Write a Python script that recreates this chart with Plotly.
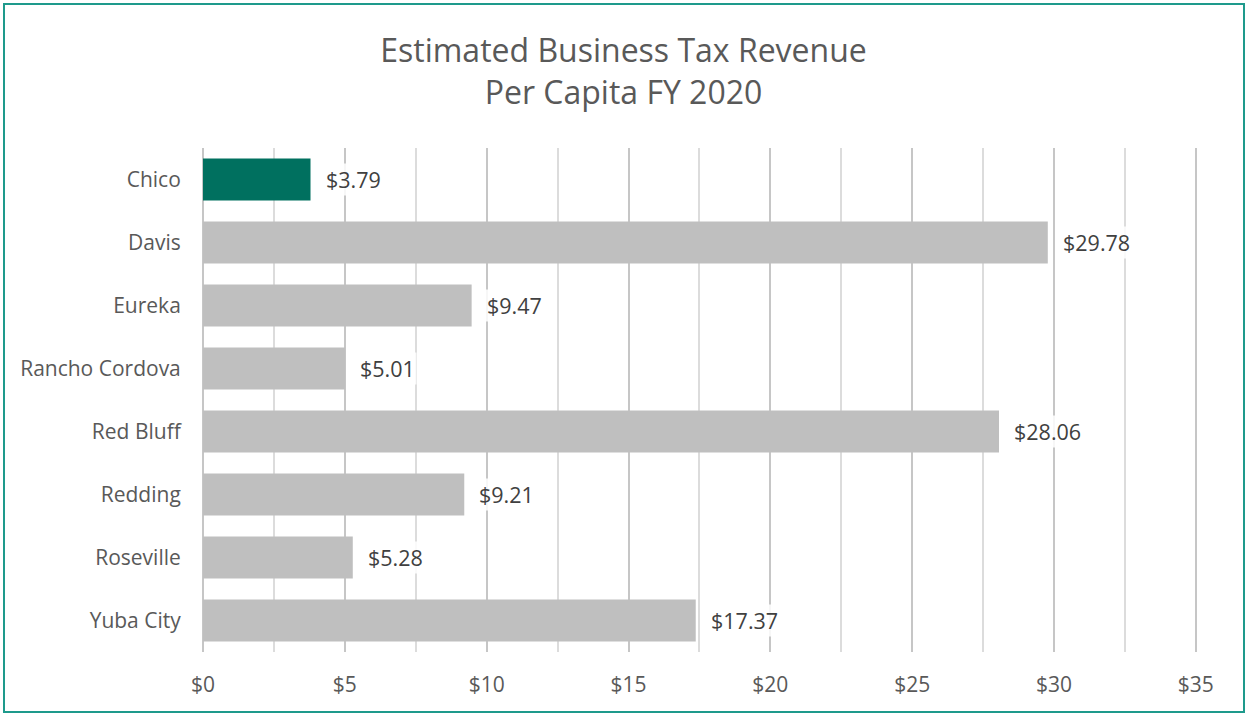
import plotly.graph_objects as go

# Per-capita business tax revenue, FY 2020
cities = ["Chico", "Davis", "Eureka", "Rancho Cordova", "Red Bluff", "Redding", "Roseville", "Yuba City"]
revenue = [3.79, 29.78, 9.47, 5.01, 28.06, 9.21, 5.28, 17.37]
highlight_city = "Chico"
x_ticks = [0, 5, 10, 15, 20, 25, 30, 35]

TEAL = "#00705f"
GRAY = "#bfbfbf"
TEXT = "#595959"
FONT = "Open Sans, sans-serif"

W, H = 1247, 714
L, R, T, B = 203, 50, 148, 62

bar_colors = [TEAL if c == highlight_city else GRAY for c in cities]

fig = go.Figure(
    go.Bar(
        x=revenue,
        y=cities,
        orientation="h",
        marker=dict(color=bar_colors, line=dict(width=0)),
        hoverinfo="x+y",
    )
)

# value labels to the right of each bar
for c, v in zip(cities, revenue):
    fig.add_annotation(
        x=v, y=c, xref="x", yref="y",
        text=f"${v:.2f}",
        showarrow=False,
        xanchor="left", yanchor="middle",
        xshift=13,
        font=dict(family=FONT, size=21.5, color="#404040"),
        bgcolor="rgba(255,255,255,0.85)",
    )

# outer frame around the whole chart
pw = W - L - R
ph = H - T - B
def px_to_paper_x(px):
    return (px - L) / pw
def px_to_paper_y(py):
    return (H - B - py) / ph

fig.add_shape(
    type="rect", xref="paper", yref="paper",
    x0=px_to_paper_x(4), x1=px_to_paper_x(1244),
    y0=px_to_paper_y(712), y1=px_to_paper_y(4),
    line=dict(color="#1e9a8c", width=2),
    fillcolor="rgba(0,0,0,0)",
    layer="above",
)

fig.update_layout(
    width=W, height=H,
    margin=dict(l=L, r=R, t=T, b=B),
    paper_bgcolor="white",
    plot_bgcolor="white",
    bargap=0.33,
    showlegend=False,
    font=dict(family=FONT, color=TEXT, size=21),
    title=dict(
        text="Estimated Business Tax Revenue<br>Per Capita FY 2020",
        x=0.5, xanchor="center",
        y=1 - 62 / H, yanchor="middle", yref="container",
        font=dict(family=FONT, size=32, color=TEXT),
    ),
    xaxis=dict(
        range=[0, 35.04],
        tickvals=x_ticks,
        ticktext=[f"${t}" for t in x_ticks],
        showgrid=True,
        gridcolor="#c6c6c6",
        gridwidth=1.5,
        zeroline=True,
        zerolinecolor="#c6c6c6",
        zerolinewidth=1.5,
        showline=False,
        ticks="outside",
        ticklen=14,
        tickcolor="rgba(0,0,0,0)",
        tickfont=dict(family=FONT, size=21, color=TEXT),
        minor=dict(dtick=2.5, tick0=0, showgrid=True, gridcolor="#dcdcdc", gridwidth=1.5),
        fixedrange=True,
    ),
    yaxis=dict(
        autorange="reversed",
        showgrid=False,
        showline=False,
        ticks="outside",
        ticklen=17,
        tickcolor="rgba(0,0,0,0)",
        tickfont=dict(family=FONT, size=21, color=TEXT),
        fixedrange=True,
    ),
)

fig.write_html("out.html")
